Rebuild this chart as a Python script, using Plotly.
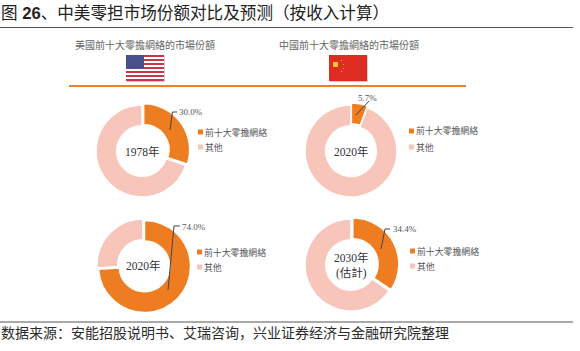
import plotly.graph_objects as go

W, H = 580, 351
categories = ["前十大零擔網絡", "其他"]
pie_names = ["1978年", "2020年", "2020年", "2030年<br>(估計)"]
top_ten_share = [30.0, 5.7, 74.0, 34.4]
other_share = [70.0, 94.3, 26.0, 65.6]
value_labels = ["30.0%", "5.7%", "74.0%", "34.4%"]
title_text = "图 <b>26</b>、中美零担市场份额对比及预测（按收入计算）"
source_text = "数据来源：安能招股说明书、艾瑞咨询，兴业证券经济与金融研究院整理"
header_us = "美國前十大零擔網絡的市場份額"
header_cn = "中國前十大零擔網絡的市場份額"

ORANGE = "#EE7D22"
PINK = "#F8C5BA"
TEXT = "#444444"
CJK_TC = "Liberation Serif, Noto Sans CJK TC"
CJK_SC = "Liberation Sans, Noto Sans CJK SC"

PIE_R = 46.0
PULL = 0.045
layouts = [
    dict(c=(142, 151), lab=(179, 112), leg=(198, 132, 147), lead=[(170, 130), (172.5, 112), (177, 112)]),
    dict(c=(351, 151), lab=(358, 98), leg=(409, 131, 147), lead=[(356, 115), (369, 101)]),
    dict(c=(143, 265), lab=(182, 227), leg=(197, 252, 267), lead=[(168, 290), (174, 226), (180, 226)]),
    dict(c=(351, 265), lab=(393, 229), leg=(410, 251, 266), lead=[(381, 249), (385, 229), (390, 229)]),
]

def px(x):
    return x / W

def py(y):
    return 1 - y / H

fig = go.Figure()
shapes = []
ann = []

def text(x, y, s, size=10, color=TEXT, family=CJK_TC, anchor="left"):
    ann.append(dict(x=px(x), y=py(y), xref="paper", yref="paper", text=s, showarrow=False,
                    xanchor=anchor, yanchor="middle", align="center",
                    font=dict(size=size, color=color, family=family),
                    borderpad=0, borderwidth=0))

def rect(x0, y0, x1, y1, color):
    shapes.append(dict(type="rect", xref="paper", yref="paper", x0=px(x0), x1=px(x1),
                       y0=py(y0), y1=py(y1), fillcolor=color, line=dict(width=0), layer="above"))

def line(pts, color, width):
    path = "M " + " L ".join(f"{px(a):.5f},{py(b):.5f}" for a, b in pts)
    shapes.append(dict(type="path", xref="paper", yref="paper", path=path,
                       line=dict(color=color, width=width), layer="above"))

for i, lay in enumerate(layouts):
    cx, cy = lay["c"]
    half = PIE_R * (1 + PULL)
    fig.add_trace(go.Pie(
        labels=categories, values=[top_ten_share[i], other_share[i]],
        sort=False, direction="clockwise", rotation=0, hole=0.55,
        pull=[PULL, 0], textinfo="none", hoverinfo="label+percent", showlegend=False,
        marker=dict(colors=[ORANGE, PINK], line=dict(color="white", width=1.5)),
        domain=dict(x=[px(cx - half), px(cx + half)], y=[py(cy + half), py(cy - half)]),
    ))
    text(cx, cy, pie_names[i], size=11.5, color="#333333", anchor="center")
    text(lay["lab"][0], lay["lab"][1], value_labels[i], size=9, color="#555555")
    line(lay["lead"], "#444444", 1)
    lx, ly0, ly1 = lay["leg"]
    rect(lx, ly0 - 2.5, lx + 5, ly0 + 2.5, ORANGE)
    text(lx + 7, ly0, categories[0], size=8.9, color="#555555")
    rect(lx, ly1 - 2.5, lx + 5, ly1 + 2.5, PINK)
    text(lx + 7, ly1, categories[1], size=8.9, color="#555555")

text(0.5, 13.5, title_text, size=16.6, color="#222222", family=CJK_SC)
text(0.5, 332, source_text, size=14, color="#2b2b2b", family="Noto Sans CJK SC")
line([(0, 27.5), (573, 27.5)], "#555555", 1)
line([(0, 322), (573, 322)], "#555555", 1)
text(75, 44, header_us, size=10, color="#666666", family="Noto Sans CJK TC")
text(278.5, 44, header_cn, size=10, color="#666666", family="Noto Sans CJK TC")
line([(69, 86), (466, 86)], "#F0812C", 2)

rect(127, 56, 165, 82, "#CFCFCF")
fx0, fx1, fy0, fy1 = 126, 164, 55, 81
rect(fx0, fy0, fx1, fy1, "#FFFFFF")
for s in range(0, 13, 2):
    rect(fx0, fy0 + s * 2, fx1, fy0 + (s + 1) * 2, "#C8354A")
rect(fx0, fy0, fx0 + 18, fy0 + 14, "#47508C")

rect(330, 56, 368, 82, "#CFCFCF")
rect(329, 55, 367, 81, "#DE2C22")
rect(333, 62, 338, 67, "#F7C92E")
for dx, dy in [(341, 60), (343, 64), (343, 68), (341, 71)]:
    rect(dx, dy, dx + 1, dy + 1, "#F2B230")

fig.update_layout(width=W, height=H, margin=dict(l=0, r=0, t=0, b=0),
                  paper_bgcolor="white", plot_bgcolor="white",
                  shapes=shapes, annotations=ann, showlegend=False)
fig.write_html("out.html", config={"displayModeBar": False},
               post_script="document.body.style.margin='0';")
